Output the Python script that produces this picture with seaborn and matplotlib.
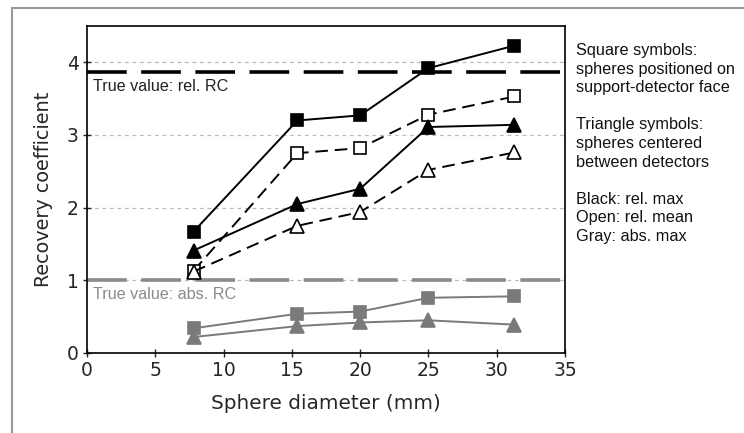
import matplotlib
matplotlib.use("Agg")
import matplotlib.pyplot as plt
from matplotlib.lines import Line2D
import seaborn as sns
import pandas as pd

# diâmetros das esferas (mm)
diametros = [7.8, 15.4, 20.0, 25.0, 31.3]

# coeficientes de recuperação
quad_max = [1.67, 3.20, 3.27, 3.92, 4.23]
quad_media = [1.13, 2.75, 2.82, 3.28, 3.53]
tri_max = [1.41, 2.05, 2.26, 3.11, 3.14]
tri_media = [1.12, 1.75, 1.94, 2.52, 2.76]
quad_abs = [0.34, 0.54, 0.57, 0.76, 0.78]
tri_abs = [0.22, 0.37, 0.42, 0.45, 0.39]

valor_rel = 3.87
valor_abs = 1.0

series = {
    'quad_max': quad_max, 'quad_media': quad_media,
    'tri_max': tri_max, 'tri_media': tri_media,
    'quad_abs': quad_abs, 'tri_abs': tri_abs,
}
linhas = []
for nome, vals in series.items():
    for d, v in zip(diametros, vals):
        linhas.append({'serie': nome, 'diametro': d, 'rc': v})
df = pd.DataFrame(linhas)

cinza = '#7a7a7a'
tracejado = (0, (6.5, 3.5))
estilos = {
    'quad_max': dict(marker='s', color='black', mfc='black', ls='-'),
    'quad_media': dict(marker='s', color='black', mfc='white', ls=tracejado),
    'tri_max': dict(marker='^', color='black', mfc='black', ls='-'),
    'tri_media': dict(marker='^', color='black', mfc='white', ls=tracejado),
    'quad_abs': dict(marker='s', color=cinza, mfc=cinza, ls='-'),
    'tri_abs': dict(marker='^', color=cinza, mfc=cinza, ls='-'),
}

sns.set_style('white')
plt.rcParams['font.family'] = ['DejaVu Sans']

fig = plt.figure(figsize=(7.44, 4.33), dpi=100)
ax = fig.add_axes([87 / 744, 80 / 433, 478 / 744, 327 / 433])

# linhas de grade horizontais
for g in [1, 2, 3, 4]:
    ax.axhline(g, color='#bbbbbb', ls=(0, (3, 3)), lw=0.9, zorder=0)

ax.axhline(valor_rel, color='black', ls=(0, (11, 4)), lw=2.6, zorder=1)
ax.axhline(valor_abs, color='#8a8a8a', ls=(0, (11, 4)), lw=2.6, zorder=1)

for nome, st in estilos.items():
    sub = df[df['serie'] == nome]
    sns.lineplot(data=sub, x='diametro', y='rc', ax=ax, color=st['color'],
                 marker=st['marker'], markersize=9 if st['marker'] == 's' else 10,
                 markerfacecolor=st['mfc'], markeredgecolor=st['color'],
                 markeredgewidth=1.2, lw=1.4, linestyle=st['ls'],
                 legend=False, zorder=3)

ax.text(0.45, valor_rel - 0.2, 'True value: rel. RC', fontsize=11.6,
        family='Liberation Sans', color='#222222', va='center')
ax.text(0.45, valor_abs - 0.2, 'True value: abs. RC', fontsize=11.6,
        family='Liberation Sans', color='#8a8a8a', va='center')

ax.set_xlim(0, 35)
ax.set_ylim(0, 4.5)
ax.set_xticks(range(0, 36, 5))
ax.set_yticks([0, 1, 2, 3, 4])
ax.tick_params(axis='both', direction='inout', length=6, width=1, labelsize=13.5,
               left=True, bottom=True, pad=3)
for s in ax.spines.values():
    s.set_color('black')
    s.set_linewidth(1.2)

ax.set_xlabel('Sphere diameter (mm)', fontsize=14.4, labelpad=10)
ax.set_ylabel('Recovery coefficient', fontsize=13.9, labelpad=10)

nota = ('Square symbols:\nspheres positioned on\nsupport-detector face\n\n'
        'Triangle symbols:\nspheres centered\nbetween detectors\n\n'
        'Black: rel. max\nOpen: rel. mean\nGray: abs. max')
fig.text(576 / 744, 1 - 43 / 433, nota, fontsize=11.7, family='Liberation Sans',
         va='top', ha='left', linespacing=1.3, color='#111111')

# moldura externa
fig.add_artist(Line2D([12 / 744, 12 / 744], [0, 1 - 8 / 433],
                      transform=fig.transFigure, color='#999999', lw=1.5))
fig.add_artist(Line2D([12 / 744, 1], [1 - 8 / 433, 1 - 8 / 433],
                      transform=fig.transFigure, color='#999999', lw=1.5))

fig.savefig('out.png', dpi=100)
